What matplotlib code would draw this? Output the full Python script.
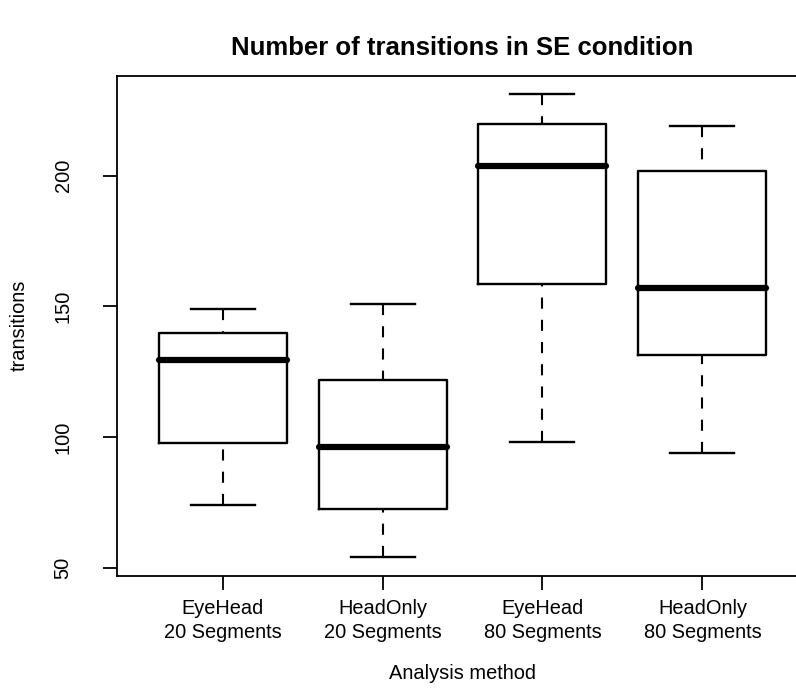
import matplotlib
matplotlib.use("Agg")
import matplotlib.pyplot as plt

plt.rcParams['font.family'] = ['Liberation Sans', 'DejaVu Sans']
plt.rcParams['lines.scale_dashes'] = False

# Five-number summaries per analysis method
categories = ["EyeHead\n20 Segments", "HeadOnly\n20 Segments",
              "EyeHead\n80 Segments", "HeadOnly\n80 Segments"]
whisker_low = [74.0, 54.1, 98.1, 94.0]
q1 = [97.7, 72.4, 158.7, 131.5]
median = [129.6, 96.4, 203.6, 157.0]
q3 = [140.0, 121.9, 219.8, 201.6]
whisker_high = [149.0, 151.0, 231.1, 219.1]
y_ticks = [50, 100, 150, 200]

W, H = 796, 690
fig = plt.figure(figsize=(W / 100, H / 100), dpi=100)
left, right, top, bottom = 117, 808, 75.7, 575.7
ax = fig.add_axes([left / W, (H - bottom) / H, (right - left) / W, (bottom - top) / H])

stats = []
for i, lab in enumerate(categories):
    stats.append(dict(label=lab, whislo=whisker_low[i], q1=q1[i], med=median[i],
                      q3=q3[i], whishi=whisker_high[i], fliers=[]))

positions = list(range(1, len(categories) + 1))
bp = ax.bxp(stats, positions=positions, widths=0.8, capwidths=0.4,
            showfliers=False, patch_artist=False,
            boxprops=dict(color='black', linewidth=1.7),
            whiskerprops=dict(color='black', linewidth=1.5, linestyle=(0, (8, 8))),
            capprops=dict(color='black', linewidth=1.7),
            medianprops=dict(color='black', linewidth=4.5, solid_capstyle='round'))

# whiskers drawn from the cap toward the box so the dash pattern starts at the cap
for line in bp['whiskers']:
    xd, yd = line.get_data()
    line.set_data(list(xd)[::-1], list(yd)[::-1])

n = len(categories)
span = n
ax.set_xlim(0.5 - 0.04 * span, n + 0.5 + 0.04 * span)
ymin, ymax = min(whisker_low), max(whisker_high)
r = ymax - ymin
ax.set_ylim(ymin - 0.04 * r, ymax + 0.04 * r)

ax.set_xticks(positions)
ax.set_xticklabels(categories, fontsize=14.4, linespacing=1.3)
ax.set_yticks(y_ticks)
ax.set_yticklabels([str(v) for v in y_ticks], fontsize=14.4, rotation=90, va='center')
ax.tick_params(axis='both', length=10, width=1.3, color='black', pad=7)
ax.tick_params(axis='y', pad=22)

for s in ax.spines.values():
    s.set_linewidth(1.3)
    s.set_color('black')

ax.set_xlabel("Analysis method", fontsize=14.4, labelpad=16)
ax.set_ylabel("transitions", fontsize=14.4, labelpad=18)
fig.text((left + right) / 2 / W, 1 - 48 / H, "Number of transitions in SE condition",
         ha='center', va='center', fontsize=18.5, fontweight='bold')

fig.savefig("out.png", dpi=100)
